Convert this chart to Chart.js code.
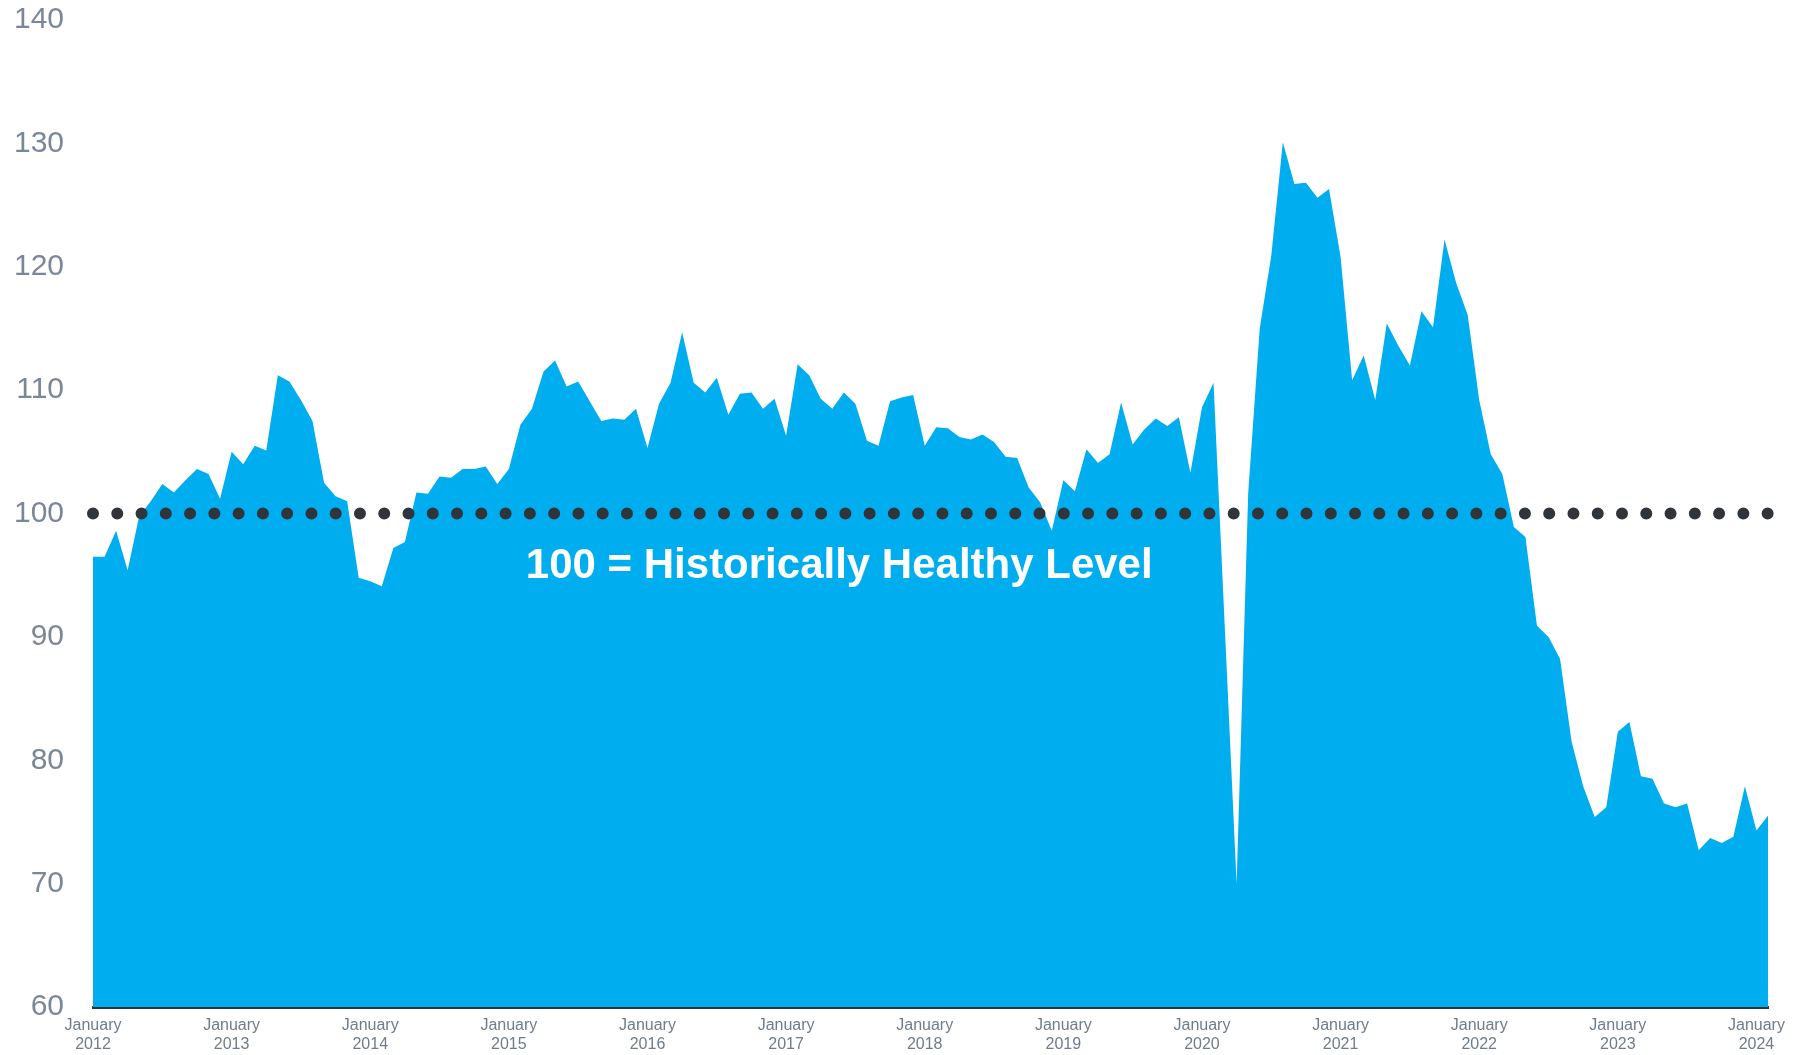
<!DOCTYPE html>
<html>
<head>
<meta charset="utf-8">
<script src="https://cdn.jsdelivr.net/npm/chart.js@4.4.1/dist/chart.umd.min.js"></script>
<style>
  html, body { margin: 0; padding: 0; background: #fff; }
</style>
</head>
<body>
<canvas id="chart" width="1802" height="1055"></canvas>
<script>
// monthly index values, one array per year (Jan..Dec)
const v2012 = [96.5, 96.5, 98.6, 95.4, 99.8, 101.0, 102.4, 101.7, 102.7, 103.6, 103.2, 101.2];
const v2013 = [105.0, 104.0, 105.5, 105.1, 111.2, 110.7, 109.2, 107.5, 102.5, 101.4, 101.0, 94.8];
const v2014 = [94.5, 94.1, 97.2, 97.7, 101.7, 101.6, 103.0, 102.9, 103.6, 103.6, 103.8, 102.4];
const v2015 = [103.6, 107.2, 108.5, 111.5, 112.4, 110.3, 110.7, 109.1, 107.5, 107.7, 107.6, 108.5];
const v2016 = [105.3, 108.9, 110.6, 114.7, 110.6, 109.8, 111.0, 108.0, 109.7, 109.8, 108.5, 109.3];
const v2017 = [106.3, 112.1, 111.2, 109.3, 108.5, 109.8, 108.9, 105.9, 105.5, 109.1, 109.4, 109.6];
const v2018 = [105.5, 107.0, 106.9, 106.2, 106.0, 106.4, 105.8, 104.6, 104.5, 102.1, 100.9, 98.6];
const v2019 = [102.7, 101.8, 105.2, 104.1, 104.8, 109.0, 105.6, 106.8, 107.7, 107.1, 107.8, 103.3];
const v2020 = [108.6, 110.6, 90.3, 70.0, 101.6, 115.0, 120.9, 130.1, 126.7, 126.8, 125.6, 126.3];
const v2021 = [120.8, 110.8, 112.8, 109.2, 115.4, 113.6, 112.0, 116.4, 115.1, 122.2, 118.7, 116.1];
const v2022 = [109.2, 104.8, 103.2, 98.9, 98.1, 90.9, 90.0, 88.2, 81.5, 77.9, 75.4, 76.2];
const v2023 = [82.3, 83.1, 78.7, 78.5, 76.5, 76.2, 76.5, 72.7, 73.7, 73.3, 73.8, 77.9];
const v2024 = [74.3, 75.5];

const years = [2012, 2013, 2014, 2015, 2016, 2017, 2018, 2019, 2020, 2021, 2022, 2023, 2024];
const yearValues = [v2012, v2013, v2014, v2015, v2016, v2017, v2018, v2019, v2020, v2021, v2022, v2023, v2024];
const tickMonthName = "January";
const healthyLevel = 100;
const yMin = 60, yMax = 140, yStep = 10;

// annotation text and where it sits (month index, index value)
const noteText = "100 = Historically Healthy Level";
const noteMonth = 64.6;
const noteValue = 95.7;

const labels = [];
const values = [];
yearValues.forEach((arr, i) => {
  arr.forEach((v, m) => {
    labels.push(years[i] + "-" + String(m + 1).padStart(2, "0"));
    values.push(v);
  });
});
const healthy = values.map(() => healthyLevel);

const notePlugin = {
  id: "note",
  afterDatasetsDraw(chart) {
    const { ctx, scales } = chart;
    const x = scales.x.getPixelForValue(noteMonth);
    const y = scales.y.getPixelForValue(noteValue);
    ctx.save();
    ctx.font = 'bold 42px "Liberation Sans", Arial, sans-serif';
    ctx.fillStyle = "#ffffff";
    ctx.textAlign = "center";
    ctx.textBaseline = "middle";
    ctx.fillText(noteText, x, y);
    ctx.restore();
  },
};

const ctx = document.getElementById("chart").getContext("2d");
new Chart(ctx, {
  type: "line",
  data: {
    labels: labels,
    datasets: [
      {
        label: "Healthy level",
        data: healthy,
        borderColor: "#30353c",
        borderWidth: 12,
        borderDash: [0, 24.27],
        borderCapStyle: "round",
        pointRadius: 0,
        fill: false,
        order: 1,
      },
      {
        label: "Index",
        data: values,
        backgroundColor: "#00aeef",
        borderWidth: 0,
        pointRadius: 0,
        tension: 0,
        fill: "start",
        order: 2,
      },
    ],
  },
  options: {
    responsive: false,
    animation: false,
    layout: { padding: { top: 0, right: 34, left: 0, bottom: 0 } },
    plugins: {
      legend: { display: false },
      tooltip: { enabled: false },
    },
    scales: {
      x: {
        grid: { display: false, drawTicks: false },
        border: { display: true, color: "#2d3138", width: 3 },
        ticks: {
          autoSkip: false,
          maxRotation: 0,
          padding: 9,
          color: "#6f7c8c",
          font: { family: '"Liberation Sans", Arial, sans-serif', size: 16, lineHeight: 1.2 },
          callback: function (val, i) {
            const lab = labels[i];
            if (lab && lab.endsWith("-01")) return [tickMonthName, lab.slice(0, 4)];
            return null;
          },
        },
        afterFit: (scale) => { scale.height = 48; scale.paddingLeft = 0; scale.paddingRight = 0; },
      },
      y: {
        min: yMin,
        max: yMax,
        grid: { display: false, drawTicks: false },
        border: { display: false },
        ticks: {
          stepSize: yStep,
          padding: 29,
          color: "#7a8798",
          font: { family: '"Liberation Sans", Arial, sans-serif', size: 30 },
        },
        afterFit: (scale) => { scale.width = 93; scale.paddingTop = 20; scale.paddingBottom = 0; },
      },
    },
  },
  plugins: [notePlugin],
});
</script>
</body>
</html>
